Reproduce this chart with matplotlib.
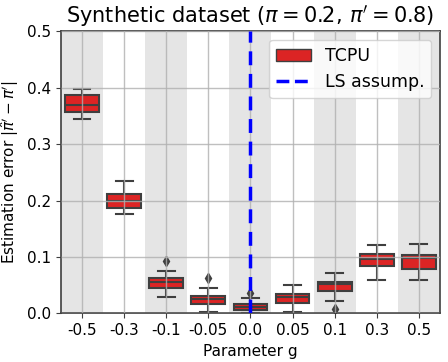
import matplotlib
matplotlib.use("Agg")
import matplotlib.pyplot as plt
from matplotlib.patches import Patch
from matplotlib.lines import Line2D

# per-g box statistics
g_labels = ["-0.5", "-0.3", "-0.1", "-0.05", "0.0", "0.05", "0.1", "0.3", "0.5"]
whislo = [0.345, 0.177, 0.030, 0.002, 0.001, 0.003, 0.0225, 0.059, 0.059]
q1 = [0.356, 0.187, 0.045, 0.0166, 0.006, 0.019, 0.039, 0.084, 0.079]
med = [0.369, 0.200, 0.056, 0.025, 0.012, 0.0286, 0.052, 0.096, 0.0975]
q3 = [0.387, 0.212, 0.063, 0.031, 0.0166, 0.0345, 0.056, 0.105, 0.103]
whishi = [0.3975, 0.234, 0.076, 0.046, 0.027, 0.051, 0.071, 0.122, 0.1225]
fliers = [[], [], [0.093], [0.0625], [0.036], [], [0.008], [], []]
ls_g = "0.0"

stats = [dict(whislo=a, q1=b, med=c, q3=d, whishi=e, fliers=f)
         for a, b, c, d, e, f in zip(whislo, q1, med, q3, whishi, fliers)]

red = "#dc2424"
edge = "#3f3f3f"

fig = plt.figure(figsize=(4.48, 3.62), dpi=100)
ax = fig.add_axes([0.136, 0.134, 0.846, 0.78])

pos = list(range(len(g_labels)))
for i in pos[::2]:
    ax.axvspan(i - 0.5, i + 0.5, color="#e5e5e5", lw=0, zorder=0)

ax.bxp(stats, positions=pos, widths=0.8, patch_artist=True,
       boxprops=dict(facecolor=red, edgecolor=edge, lw=1.5),
       medianprops=dict(color=edge, lw=1.5),
       whiskerprops=dict(color=edge, lw=1.5),
       capprops=dict(color=edge, lw=1.5),
       flierprops=dict(marker="d", markerfacecolor=edge, markeredgecolor=edge, markersize=5),
       zorder=2)

ax.grid(True, color="#b0b0b0", lw=1.0, alpha=0.8, zorder=3)
ax.set_axisbelow(False)
ax.axvline(g_labels.index(ls_g), color="blue", ls=(0, (4, 2.5)), lw=2.5, zorder=4)

ax.set_xlim(-0.5, len(g_labels) - 0.5)
ax.set_ylim(0, 0.5)
ax.set_xticks(pos)
ax.set_xticklabels(g_labels)
ax.tick_params(labelsize=11, color=edge)
for s in ax.spines.values():
    s.set_color(edge)
    s.set_linewidth(1.2)

ax.set_xlabel("Parameter g", fontsize=11)
ax.set_ylabel(r"Estimation error $|\hat{\pi}' - \pi'|$", fontsize=11)
ax.set_title(r"Synthetic dataset ($\pi = 0.2,\, \pi' = 0.8$)", fontsize=15)

handles = [Patch(facecolor=red, edgecolor=edge, label="TCPU"),
           Line2D([0], [0], color="blue", ls="--", lw=2.5, label="LS assump.")]
ax.legend(handles=handles, loc="upper right", fontsize=12.5)

fig.savefig("out.png", dpi=100)
